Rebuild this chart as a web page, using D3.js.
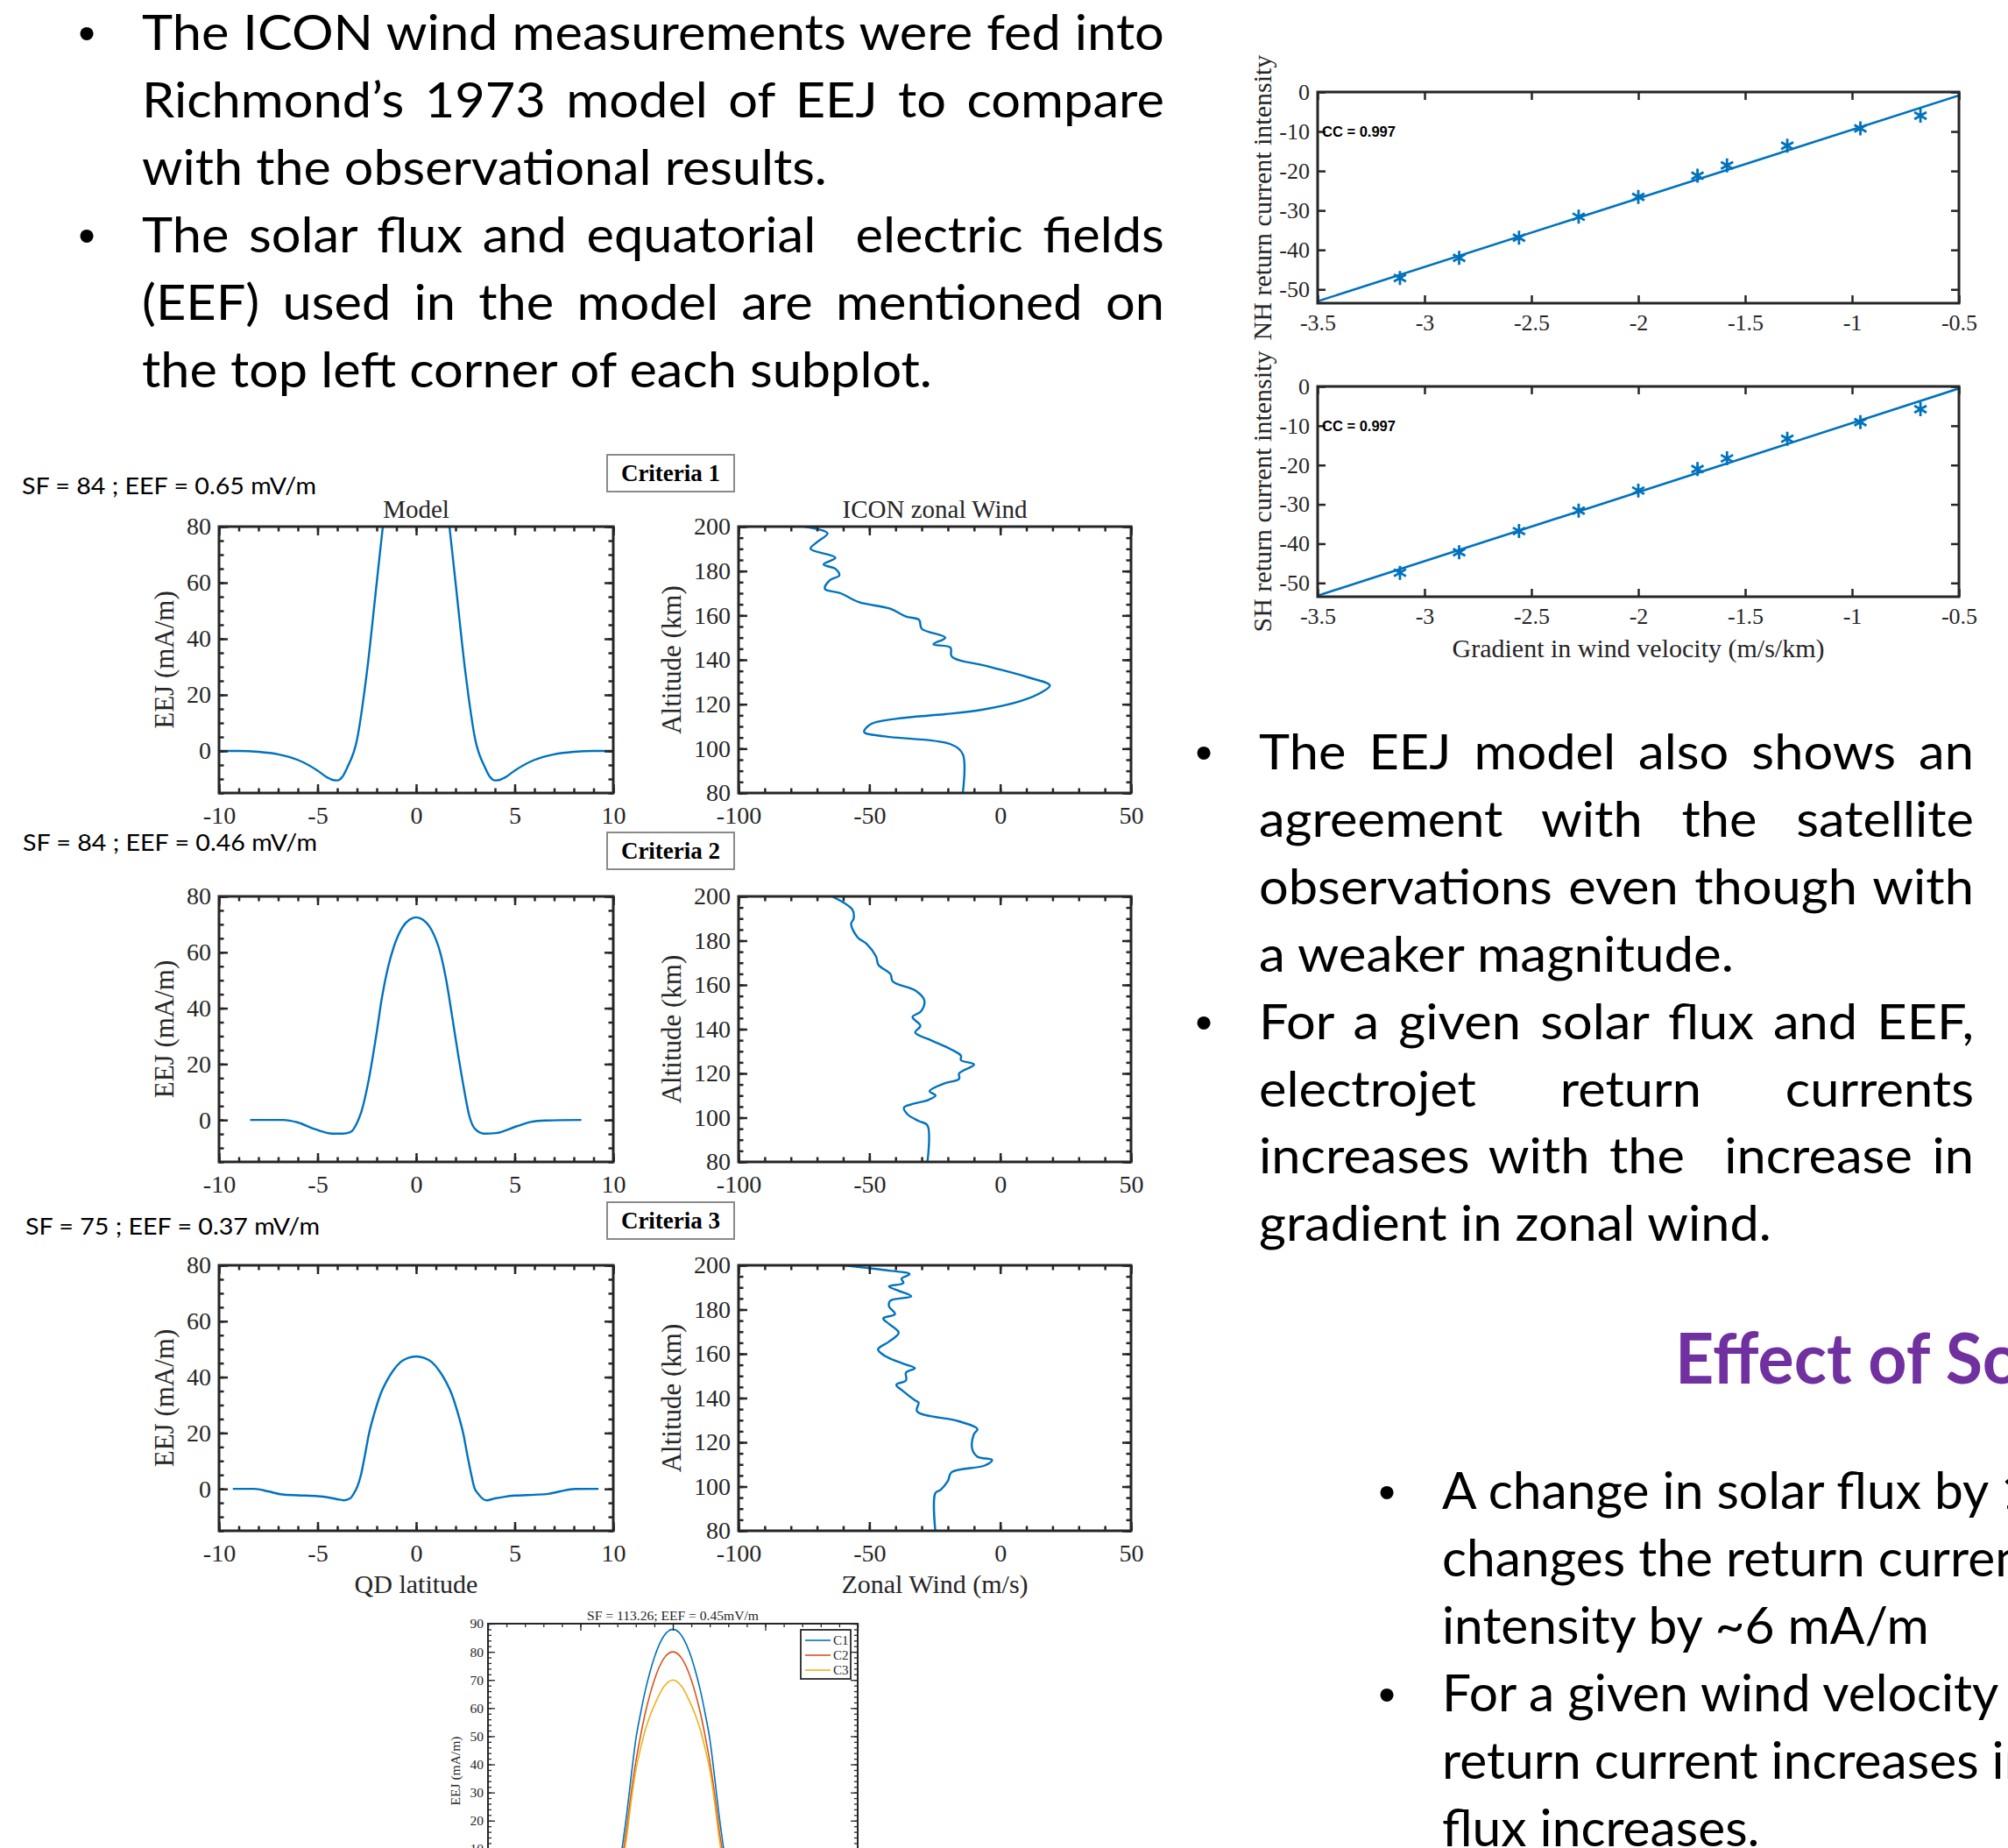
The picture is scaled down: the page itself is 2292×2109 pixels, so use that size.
<!DOCTYPE html>
<html>
<head>
<meta charset="utf-8">
<script src="https://cdn.jsdelivr.net/npm/d3@7"></script>
<style>
  body { margin: 0; background: #fff; }
  svg { display: block; }
</style>
</head>
<body>
<div id="chart"></div>
<script>
// ---------- text content ----------
const block1Lines = [
  'The ICON wind measurements were fed into',
  'Richmond\u2019s 1973 model of EEJ to compare',
  'with the observational results.',
  'The solar flux and equatorial  electric fields',
  '(EEF) used in the model are mentioned on',
  'the top left corner of each subplot.'
];
const block2Lines = [
  'The EEJ model also shows an',
  'agreement with the satellite',
  'observations even though with',
  'a weaker magnitude.',
  'For a given solar flux and EEF,',
  'electrojet return currents',
  'increases with the  increase in',
  'gradient in zonal wind.'
];
const block3Lines = [
  'A change in solar flux by 10',
  'changes the return current',
  'intensity by ~6 mA/m',
  'For a given wind velocity',
  'return current increases in',
  'flux increases.'
];
const sectionTitle = 'Effect of Solar Flux';

const runLabels = ['SF = 84 ; EEF = 0.65 mV/m', 'SF = 84 ; EEF = 0.46 mV/m', 'SF = 75 ; EEF = 0.37 mV/m'];
const criteriaLabels = ['Criteria 1', 'Criteria 2', 'Criteria 3'];

// ---------- model EEJ profiles (QD latitude, mA/m) ----------
const model1Lat = [-10, -9, -8, -7, -6, -5, -4.5, -4.25, -4, -3.75, -3.5, -3, -2.5, -2, -1.5, -1, -0.5, 0, 0.5, 1, 1.5, 2, 2.5, 3, 3.5, 3.75, 4, 4.25, 4.5, 5, 6, 7, 8, 9, 10];
const model1EEJ = [0, 0, -0.3, -1.2, -3.2, -7, -9.5, -10.3, -10.5, -9.3, -6, 4, 28, 60, 92, 120, 138, 145, 138, 120, 92, 60, 28, 4, -6, -9.3, -10.5, -10.3, -9.5, -7, -3.2, -1.2, -0.3, 0, 0];

const model2Lat = [-8.42, -6.75, -6.0, -5.13, -4.25, -3.73, -3.35, -2.98, -2.76, -2.39, -2.02, -1.73, -1.43, -1.14, -0.69, -0.35, 0, 0.35, 0.78, 1.23, 1.52, 1.81, 2.11, 2.41, 2.7, 3.0, 3.45, 4.04, 5.08, 5.82, 6.56, 8.38];
const model2EEJ = [0, 0, -0.9, -3.3, -4.9, -4.9, -4.4, -0.7, 3.4, 14.9, 30.5, 44, 54.5, 61.8, 69, 71.6, 72.5, 71.6, 68, 59.7, 50.3, 37.8, 24.3, 11.8, 1.4, -3.3, -4.9, -4.7, -2.3, -0.7, -0.2, 0];

const model3Lat = [-9.3, -8.2, -7.5, -6.8, -6, -5, -4.5, -4, -3.67, -3.35, -3.15, -3.0, -2.8, -2.6, -2.4, -2.1, -1.8, -1.5, -1.2, -0.8, -0.4, 0, 0.4, 0.8, 1.2, 1.5, 1.8, 2.1, 2.4, 2.6, 2.8, 2.95, 3.15, 3.56, 4, 4.5, 5, 6, 6.7, 7.3, 8.05, 9.25];
const model3EEJ = [0, 0, -0.9, -2, -2.3, -2.6, -3, -3.7, -4.1, -3.4, -1.5, 0.5, 5, 12, 19.5, 27.5, 34, 38.5, 42, 45.3, 46.9, 47.4, 46.9, 45.3, 42, 38.5, 34, 27.5, 19.5, 12, 5, 0.5, -1.8, -4.1, -3.4, -2.8, -2.4, -2.1, -1.8, -0.9, -0.05, 0];

// ---------- ICON zonal wind profiles (altitude km, wind m/s) ----------
const wind1Alt = [200, 197, 193, 190, 186, 183, 181, 178, 176, 172, 170, 166, 163, 159.5, 158, 154, 150, 147, 145.5, 141.5, 137, 132, 128.5, 125.5, 121.5, 117.5, 115.5, 113.5, 111, 107.5, 105.5, 102, 97.5, 80];
const wind1U = [-75, -66, -70, -72.5, -63, -67.5, -63, -61.5, -65, -67, -61, -54, -42, -36, -31, -30, -21, -25.5, -19, -18.5, -4.5, 11, 19, 16, 8, -7, -21, -39.5, -49.5, -52, -44, -19, -14.3, -14.3];

const wind2Alt = [200, 194, 190, 187.5, 181.5, 178.5, 173, 169, 165, 161.5, 157.5, 153, 148, 145.5, 141.5, 138.5, 135, 131, 128, 126, 124, 120, 117.5, 115.5, 112, 110, 108, 106, 104.5, 101.5, 98.5, 96.5, 80];
const wind2U = [-64.3, -56.5, -56, -57, -54.5, -51, -47.5, -46.5, -42, -41, -32.5, -29, -30.3, -33.5, -30.5, -32.5, -26.5, -19, -15, -15, -10, -15.7, -15.7, -21.3, -27, -24.7, -27.5, -34, -36.8, -35.4, -31.2, -27.8, -27.8];

const wind3Alt = [200, 198, 196, 194, 192, 190.5, 188.5, 186, 184, 181.5, 178, 176, 173.5, 169.5, 165.5, 162, 159, 155.5, 153.5, 151.5, 148, 146, 143, 139, 138, 134, 129.5, 126, 123.5, 117, 113.5, 112, 109.5, 106.5, 102.5, 98.5, 97, 80];
const wind3U = [-60, -45.3, -34.6, -37.7, -37, -42.5, -38.8, -34, -42, -42.5, -40.2, -44.7, -42.5, -38.8, -42.5, -46.7, -44, -37, -32.6, -36, -36, -39.7, -37, -32.6, -31.2, -31.8, -15.8, -8.7, -10.1, -10.7, -8.7, -3.1, -5.9, -18.6, -20, -22.8, -24.8, -24.8];

// ---------- return current vs wind gradient ----------
const gradValues = [-3.115, -2.838, -2.558, -2.279, -2.0, -1.723, -1.585, -1.303, -0.961, -0.68];
const nhCurrent = [-47.1, -42.0, -36.9, -31.6, -26.6, -21.2, -18.6, -13.6, -9.2, -6.0];
const shCurrent = [-47.4, -42.2, -36.8, -31.6, -26.5, -21.0, -18.3, -13.3, -9.1, -5.8];
const ccLabel = 'CC = 0.997';

// ---------- solar flux comparison ----------
const sfLat = [-3.2, -3, -2.75, -2.5, -2.25, -2, -1.75, -1.5, -1.25, -1, -0.5, 0, 0.5, 1, 1.25, 1.5, 1.75, 2, 2.25, 2.5, 2.75, 3, 3.2];
const sfC1 = [-12, -2, 10, 22, 36, 49, 58, 66, 72.5, 78, 85.5, 88, 85.5, 78, 72.5, 66, 58, 49, 36, 22, 10, -2, -12];
const sfC2 = [-18, -8, 6, 17, 30, 41, 50, 58, 64.5, 70, 77.5, 80, 77.5, 70, 64.5, 58, 50, 41, 30, 17, 6, -8, -18];
const sfC3 = [-20, -10, 3, 14, 27, 38, 45.5, 52, 57, 61, 67.5, 70, 67.5, 61, 57, 52, 45.5, 38, 27, 14, 3, -10, -20];
const sfSeries = ['C1', 'C2', 'C3'];
const sfTitle = 'SF = 113.26; EEF = 0.45mV/m';

// ---------- ticks ----------
const latTicks = [-10, -5, 0, 5, 10];
const eejTicks = [0, 20, 40, 60, 80];
const windTicks = [-100, -50, 0, 50];
const altTicks = [80, 100, 120, 140, 160, 180, 200];
const gradTicks = [-3.5, -3, -2.5, -2, -1.5, -1, -0.5];
const currTicks = [-50, -40, -30, -20, -10, 0];
const sfEejTicks = [0, 10, 20, 30, 40, 50, 60, 70, 80, 90];

// ---------- setup ----------
const W = 2292, H = 2109;
const ink = '#262626', blue = '#0072BD';
const sfColors = ['#0072BD', '#D95319', '#EDB120'];
const serif = '"Liberation Serif", "Times New Roman", serif';
const sans = 'Lato, "Open Sans", sans-serif';

const svg = d3.select('#chart').append('svg')
  .attr('width', W)
  .attr('height', H);
svg.append('rect').attr('width', W).attr('height', H).attr('fill', '#fff');
const defs = svg.append('defs');
let clipCount = 0;

const zip = (a, b) => a.map((v, i) => [v, b[i]]);
const fmt = d => String(d);

function measure(str, size, weight, family) {
  const t = svg.append('text')
    .attr('font-family', family).attr('font-size', size).attr('font-weight', weight)
    .attr('xml:space', 'preserve').style('white-space', 'pre')
    .text(str);
  const w = t.node().getComputedTextLength();
  t.remove();
  return w;
}

// ---------- body text ----------
const bodySize = 56, block3Size = 59;
// widths in the reference of lines that are not justified; gives the glyph scale
const refWidths = [[block1Lines[2], 782], [block1Lines[5], 902], [block2Lines[3], 542], [block2Lines[7], 585]];
const glyphScale = d3.mean(refWidths, ([s, w]) => w / measure(s, bodySize, 400, sans));
const block3Widths = [[block3Lines[2], 552], [block3Lines[5], 365]];
const glyphScale3 = d3.mean(block3Widths, ([s, w]) => w / measure(s, block3Size, 400, sans));

function bodyLine(str, x, y, mode, target, size = bodySize, scale = glyphScale) {
  const w = measure(str, size, 400, sans);
  const spaces = (str.match(/ /g) || []).length;
  let sx = scale, ws = 0;
  if (mode === 'justify') {
    ws = (target / sx - w) / spaces;
    if (ws < 0) { sx = target / w; ws = 0; }
  } else if (mode === 'end') {
    sx = target / w;
  }
  svg.append('text')
    .attr('transform', `translate(${x},${y}) scale(${sx},1)`)
    .attr('font-family', sans).attr('font-size', size).attr('fill', '#000')
    .attr('xml:space', 'preserve').style('white-space', 'pre')
    .style('word-spacing', ws + 'px')
    .text(str);
}

function bullet(x, y) {
  svg.append('text').attr('x', x).attr('y', y)
    .attr('text-anchor', 'middle')
    .attr('font-family', '"Liberation Sans", Arial, sans-serif')
    .attr('font-size', 56).attr('fill', '#000')
    .text('\u2022');
}

const lineStep = 76.9;
// block 1
const b1Modes = ['justify', 'justify', 'end', 'justify', 'justify', 'end'];
const b1Ends = [1329, 1329, 944, 1329, 1329, 1064];
block1Lines.forEach((s, i) => bodyLine(s, 162, 57 + i * lineStep, b1Modes[i], b1Ends[i] - 162));
bullet(99, 57);
bullet(99, 57 + 3 * lineStep);

// block 2
const b2Modes = ['justify', 'justify', 'justify', 'end', 'justify', 'justify', 'justify', 'end'];
const b2Ends = [2253, 2253, 2253, 1979, 2253, 2253, 2253, 2022];
block2Lines.forEach((s, i) => bodyLine(s, 1437, 878 + i * lineStep, b2Modes[i], b2Ends[i] - 1437));
bullet(1374, 878);
bullet(1374, 878 + 4 * lineStep);

// block 3 (runs off the right edge)
block3Lines.forEach((s, i) => bodyLine(s, 1646, 1722 + i * lineStep, 'scale', 0, block3Size, glyphScale3));
bullet(1583, 1722);
bullet(1583, 1722 + 3 * lineStep);

// section title (runs off the right edge)
{
  const part = measure('Effect of S', 80, 700, sans);
  svg.append('text')
    .attr('transform', `translate(1912,1579) scale(${351 / part},1)`)
    .attr('font-family', sans).attr('font-size', 80).attr('font-weight', 700)
    .attr('fill', '#7030A0')
    .text(sectionTitle);
}

// ---------- axes helper (box, inward ticks on all sides) ----------
function boxAxes(g, x, y, o) {
  const [xa, xb] = x.range(), [yb, ya] = y.range();
  const add = (axis, tx, ty, vals, len, pad, labelled) => {
    const a = g.append('g').attr('transform', `translate(${tx},${ty})`)
      .call(axis.tickValues(vals).tickSizeInner(-len).tickSizeOuter(0).tickPadding(pad)
        .tickFormat(labelled ? fmt : () => ''));
    a.select('.domain').remove();
    a.selectAll('.tick line').attr('stroke', ink).attr('stroke-width', o.tickW);
    a.selectAll('.tick text').attr('fill', ink).attr('font-family', serif).attr('font-size', o.fs);
    return a;
  };
  add(d3.axisBottom(x), 0, yb, o.xMinor, o.minorLen, 0, false);
  add(d3.axisTop(x), 0, ya, o.xMinor, o.minorLen, 0, false);
  add(d3.axisLeft(y), xa, 0, o.yMinor, o.minorLen, 0, false);
  add(d3.axisRight(y), xb, 0, o.yMinor, o.minorLen, 0, false);
  add(d3.axisBottom(x), 0, yb, o.xMajor, o.majorLen, o.xPad, o.xLabels);
  add(d3.axisTop(x), 0, ya, o.xMajor, o.majorLen, 0, false);
  add(d3.axisLeft(y), xa, 0, o.yMajor, o.majorLen, o.yPad, true);
  add(d3.axisRight(y), xb, 0, o.yMajor, o.majorLen, 0, false);
  g.append('rect')
    .attr('x', xa).attr('y', ya).attr('width', xb - xa).attr('height', yb - ya)
    .attr('fill', 'none').attr('stroke', ink).attr('stroke-width', o.boxW);
}

function clipFor(x, y) {
  const id = 'clip' + (clipCount++);
  const [xa, xb] = x.range(), [yb, ya] = y.range();
  defs.append('clipPath').attr('id', id).append('rect')
    .attr('x', xa).attr('y', ya).attr('width', xb - xa).attr('height', yb - ya);
  return `url(#${id})`;
}

function label(g, str, x, y, size, rotate) {
  return g.append('text')
    .attr('transform', `translate(${x},${y})` + (rotate ? ' rotate(-90)' : ''))
    .attr('text-anchor', 'middle')
    .attr('font-family', serif).attr('font-size', size).attr('fill', ink)
    .text(str);
}

// ---------- criteria grid ----------
const rows = [
  { lat: model1Lat, eej: model1EEJ, alt: wind1Alt, u: wind1U, top: 601, bottom: 905, runX: 25, runY: 564, boxY: 519 },
  { lat: model2Lat, eej: model2EEJ, alt: wind2Alt, u: wind2U, top: 1023, bottom: 1326, runX: 26, runY: 971, boxY: 950 },
  { lat: model3Lat, eej: model3EEJ, alt: wind3Alt, u: wind3U, top: 1444, bottom: 1747, runX: 29, runY: 1409, boxY: 1372 }
];

const grid = svg.append('g');
rows.forEach((r, i) => {
  const xm = d3.scaleLinear().domain([-10, 10]).range([250, 700]);
  const ym = d3.scaleLinear().domain([-15, 80]).range([r.bottom, r.top]);
  const xw = d3.scaleLinear().domain([-100, 50]).range([843, 1291]);
  const yw = d3.scaleLinear().domain([80, 200]).range([r.bottom, r.top]);

  // run label
  const rl = measure(runLabels[i], 26, 400, sans);
  grid.append('text')
    .attr('transform', `translate(${r.runX},${r.runY}) scale(${336 / rl},1)`)
    .attr('font-family', sans).attr('font-size', 26).attr('fill', '#000')
    .text(runLabels[i]);

  // criteria box
  grid.append('rect').attr('x', 693).attr('y', r.boxY).attr('width', 145).attr('height', 42)
    .attr('fill', '#fff').attr('stroke', '#8a8a8a').attr('stroke-width', 2);
  grid.append('text').attr('x', 765.5).attr('y', r.boxY + 30)
    .attr('text-anchor', 'middle').attr('font-family', serif).attr('font-weight', 700)
    .attr('font-size', 27).attr('fill', '#000')
    .text(criteriaLabels[i]);

  // model line
  grid.append('path')
    .datum(zip(r.lat, r.eej))
    .attr('clip-path', clipFor(xm, ym))
    .attr('fill', 'none').attr('stroke', blue).attr('stroke-width', 2.4)
    .attr('d', d3.line().x(d => xm(d[0])).y(d => ym(d[1])).curve(d3.curveMonotoneX));

  // wind line
  grid.append('path')
    .datum(zip(r.alt, r.u))
    .attr('clip-path', clipFor(xw, yw))
    .attr('fill', 'none').attr('stroke', blue).attr('stroke-width', 2.4)
    .attr('d', d3.line().x(d => xw(d[1])).y(d => yw(d[0])).curve(d3.curveCatmullRom.alpha(0.5)));

  const common = { fs: 28, tickW: 2.5, boxW: 3, majorLen: 10, minorLen: 5.5, xPad: 15, yPad: 9, xLabels: true };
  boxAxes(grid, xm, ym, Object.assign({}, common, {
    xMajor: latTicks, xMinor: d3.range(-10, 10.1, 1),
    yMajor: eejTicks, yMinor: d3.range(-15, 80.1, 5)
  }));
  boxAxes(grid, xw, yw, Object.assign({}, common, {
    xMajor: windTicks, xMinor: d3.range(-100, 50.1, 10),
    yMajor: altTicks, yMinor: d3.range(80, 200.1, 5)
  }));

  const cy = (r.top + r.bottom) / 2;
  label(grid, 'EEJ (mA/m)', 187, cy, 31, true).attr('dy', '0.35em');
  label(grid, 'Altitude (km)', 766, cy, 31, true).attr('dy', '0.35em');
  if (i === 0) {
    label(grid, 'Model', 475, 591, 29);
    label(grid, 'ICON zonal Wind', 1067, 591, 29);
  }
  if (i === 2) {
    label(grid, 'QD latitude', 475, 1818, 30);
    label(grid, 'Zonal Wind (m/s)', 1067, 1818, 30);
  }
});

// ---------- return current scatter plots ----------
const scatterPanels = [
  { curr: nhCurrent, top: 105, bottom: 346, ylab: 'NH return current intensity' },
  { curr: shCurrent, top: 441, bottom: 681, ylab: 'SH return current intensity' }
];
const sc = svg.append('g');
scatterPanels.forEach((p, i) => {
  const x = d3.scaleLinear().domain([-3.5, -0.5]).range([1504, 2236]);
  const y = d3.scaleLinear().domain([-53.5, 0]).range([p.bottom, p.top]);
  const pts = zip(gradValues, p.curr);

  // least squares fit
  const mx = d3.mean(gradValues), my = d3.mean(p.curr);
  const slope = d3.sum(pts, d => (d[0] - mx) * (d[1] - my)) / d3.sum(pts, d => (d[0] - mx) ** 2);
  const fit = x.domain().map(v => [v, my + slope * (v - mx)]);

  const clip = clipFor(x, y);
  sc.append('path').datum(fit)
    .attr('clip-path', clip)
    .attr('fill', 'none').attr('stroke', blue).attr('stroke-width', 2.6)
    .attr('d', d3.line().x(d => x(d[0])).y(d => y(d[1])));

  sc.selectAll(null).data(pts).join('path')
    .attr('transform', d => `translate(${x(d[0])},${y(d[1])})`)
    .attr('d', d3.symbol(d3.symbolAsterisk, 180))
    .attr('fill', 'none').attr('stroke', blue).attr('stroke-width', 2.8);

  boxAxes(sc, x, y, {
    fs: 26, tickW: 2.5, boxW: 3, majorLen: 9, minorLen: 0, xPad: 13, yPad: 9, xLabels: true,
    xMajor: gradTicks, xMinor: [], yMajor: currTicks, yMinor: []
  });

  sc.append('text').attr('x', 1509).attr('y', y(-10) + 6)
    .attr('font-family', '"Liberation Sans", Arial, sans-serif').attr('font-weight', 700)
    .attr('font-size', 16).attr('textLength', 84).attr('lengthAdjust', 'spacingAndGlyphs')
    .attr('fill', '#000')
    .text(ccLabel);

  label(sc, p.ylab, 1440, (p.top + p.bottom) / 2, 30, true).attr('dy', '0.35em');
});
label(sc, 'Gradient in wind velocity (m/s/km)', 1870, 750, 30);

// ---------- solar flux comparison (cut at the bottom edge) ----------
{
  const g = svg.append('g');
  const x = d3.scaleLinear().domain([-10, 10]).range([557, 979]);
  const y = d3.scaleLinear().domain([0, 90]).range([2142, 1853]);
  const clip = clipFor(x, y);
  const series = [sfC1, sfC2, sfC3];
  series.forEach((s, k) => {
    g.append('path').datum(zip(sfLat, s))
      .attr('clip-path', clip)
      .attr('fill', 'none').attr('stroke', sfColors[k]).attr('stroke-width', 1.6)
      .attr('d', d3.line().x(d => x(d[0])).y(d => y(d[1])).curve(d3.curveMonotoneX));
  });
  boxAxes(g, x, y, {
    fs: 15.5, tickW: 1.3, boxW: 2, majorLen: 8, minorLen: 4, xPad: 6, yPad: 5, xLabels: false,
    xMajor: latTicks, xMinor: d3.range(-10, 10.1, 1),
    yMajor: sfEejTicks, yMinor: d3.range(0, 90.1, 2)
  });
  label(g, sfTitle, 768, 1849, 15.6);
  label(g, 'EEJ (mA/m)', 520, 2021, 15.5, true).attr('dy', '0.35em');

  // legend
  const lg = g.append('g');
  lg.append('rect').attr('x', 914).attr('y', 1860).attr('width', 57).attr('height', 56)
    .attr('fill', '#fff').attr('stroke', ink).attr('stroke-width', 1.8);
  sfSeries.forEach((name, k) => {
    const ly = 1872 + k * 17;
    lg.append('line').attr('x1', 919).attr('x2', 948).attr('y1', ly).attr('y2', ly)
      .attr('stroke', sfColors[k]).attr('stroke-width', 1.6);
    lg.append('text').attr('x', 951).attr('y', ly + 5)
      .attr('font-family', serif).attr('font-size', 15).attr('fill', ink)
      .text(name);
  });
}
</script>
</body>
</html>
